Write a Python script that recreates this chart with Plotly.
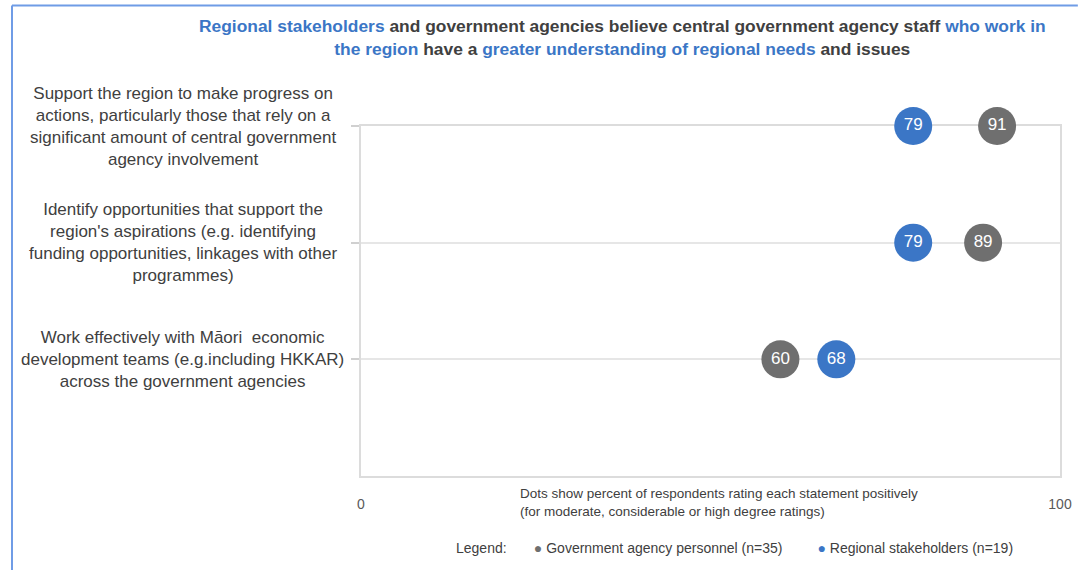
import plotly.graph_objects as go

statements = [
    "Support the region to make progress on<br>actions, particularly those that rely on a<br>significant amount of central government<br>agency involvement",
    "Identify opportunities that support the<br>region's aspirations (e.g. identifying<br>funding opportunities, linkages with other<br>programmes)",
    "Work effectively with Māori  economic<br>development teams (e.g.including HKKAR)<br>across the government agencies",
]
rows = [0, 1, 2]
gov_values = [91, 89, 60]
reg_values = [79, 79, 68]
x_ticks = [0, 100]

BLUE = "#3b76c6"
GREY = "#6f6f6f"
DARK = "#404040"
FONT = "Liberation Sans Narrow, Arial Narrow, Liberation Sans, Arial, sans-serif"

# plot box in pixels: x 361..1066, y 126..476
L, R, T, B = 361, 1066, 126, 476
W, H = R - L, B - T


def px(x):
    return (x - L) / W


def py(y):
    return (B - y) / H


fig = go.Figure()

fig.add_trace(go.Scatter(
    x=gov_values, y=rows, mode="markers+text", text=[str(v) for v in gov_values],
    marker=dict(size=38, color=GREY), textfont=dict(color="white", size=17, family=FONT),
    textposition="middle center", cliponaxis=False, showlegend=False, hoverinfo="skip",
))
fig.add_trace(go.Scatter(
    x=reg_values, y=rows, mode="markers+text", text=[str(v) for v in reg_values],
    marker=dict(size=38, color=BLUE), textfont=dict(color="white", size=17, family=FONT),
    textposition="middle center", cliponaxis=False, showlegend=False, hoverinfo="skip",
))

# y labels, centred lines like the source
for r, s in zip(rows, statements):
    fig.add_annotation(x=px(181), xref="paper", y=r, yref="y", text=s, showarrow=False,
                       xanchor="center", yanchor="middle", align="center",
                       font=dict(size=17, color=DARK, family=FONT))

title = (
    f"<b><span style='color:{BLUE}'>Regional stakeholders</span> and government agencies believe "
    f"central government agency staff <span style='color:{BLUE}'>who work in</span><br>"
    f"<span style='color:{BLUE}'>the region</span> have a "
    f"<span style='color:{BLUE}'>greater understanding of regional needs</span> and issues</b>"
)
fig.add_annotation(x=px(625), xref="paper", y=py(37), yref="paper",
                   text=title, showarrow=False, align="center", xanchor="center", yanchor="middle",
                   font=dict(size=17.4, color=DARK, family=FONT))

fig.add_annotation(x=px(519), xref="paper", y=py(484), yref="paper",
                   text="Dots show percent of respondents rating each statement positively<br>"
                        "(for moderate, considerable or high degree ratings)",
                   showarrow=False, align="left", xanchor="left", yanchor="top",
                   font=dict(size=13.5, color=DARK, family=FONT))

legend_txt = (
    f"Legend:&nbsp;&nbsp;&nbsp;&nbsp;&nbsp;&nbsp;&nbsp;<span style='color:{GREY}'>●</span> Government agency personnel (n=35)"
    f"&nbsp;&nbsp;&nbsp;&nbsp;&nbsp;&nbsp;&nbsp;&nbsp;&nbsp;<span style='color:{BLUE}'>●</span> Regional stakeholders (n=19)"
)
fig.add_annotation(x=px(455), xref="paper", y=py(548), yref="paper",
                   text=legend_txt, showarrow=False, xanchor="left", yanchor="middle",
                   font=dict(size=14, color=DARK, family=FONT))

fig.update_xaxes(range=[0, 100], tickvals=x_ticks, showgrid=False, zeroline=False,
                 showline=True, mirror=True, linecolor="#dcdcdc", linewidth=2,
                 ticks="outside", ticklen=14, tickcolor="rgba(0,0,0,0)", layer="below traces",
                 tickfont=dict(size=14, color="#595959", family=FONT), fixedrange=True)
fig.update_yaxes(range=[3, 0], tickvals=rows, showticklabels=False, showgrid=True,
                 gridcolor="#e6e6e6", gridwidth=2, zeroline=False,
                 showline=True, mirror=True, linecolor="#dcdcdc", linewidth=2, layer="below traces",
                 ticks="outside", ticklen=8, tickcolor="#d0d0d0", tickwidth=2, fixedrange=True)

# thin blue frame of the source screenshot
fig.add_shape(type="line", xref="paper", yref="paper", x0=px(9), x1=px(1084),
              y0=py(5.5), y1=py(5.5), line=dict(color="#6f9ce6", width=2))
fig.add_shape(type="line", xref="paper", yref="paper", x0=px(9), x1=px(9),
              y0=py(5.5), y1=py(570), line=dict(color="#6f9ce6", width=2))

fig.update_layout(
    width=1084, height=570,
    margin=dict(l=L, r=1084 - R, t=T, b=570 - B),
    paper_bgcolor="white", plot_bgcolor="white",
    font=dict(family=FONT, color=DARK),
    showlegend=False,
)
fig.write_html("out.html", config={"displayModeBar": False},
               post_script="document.body.style.margin='0';")
